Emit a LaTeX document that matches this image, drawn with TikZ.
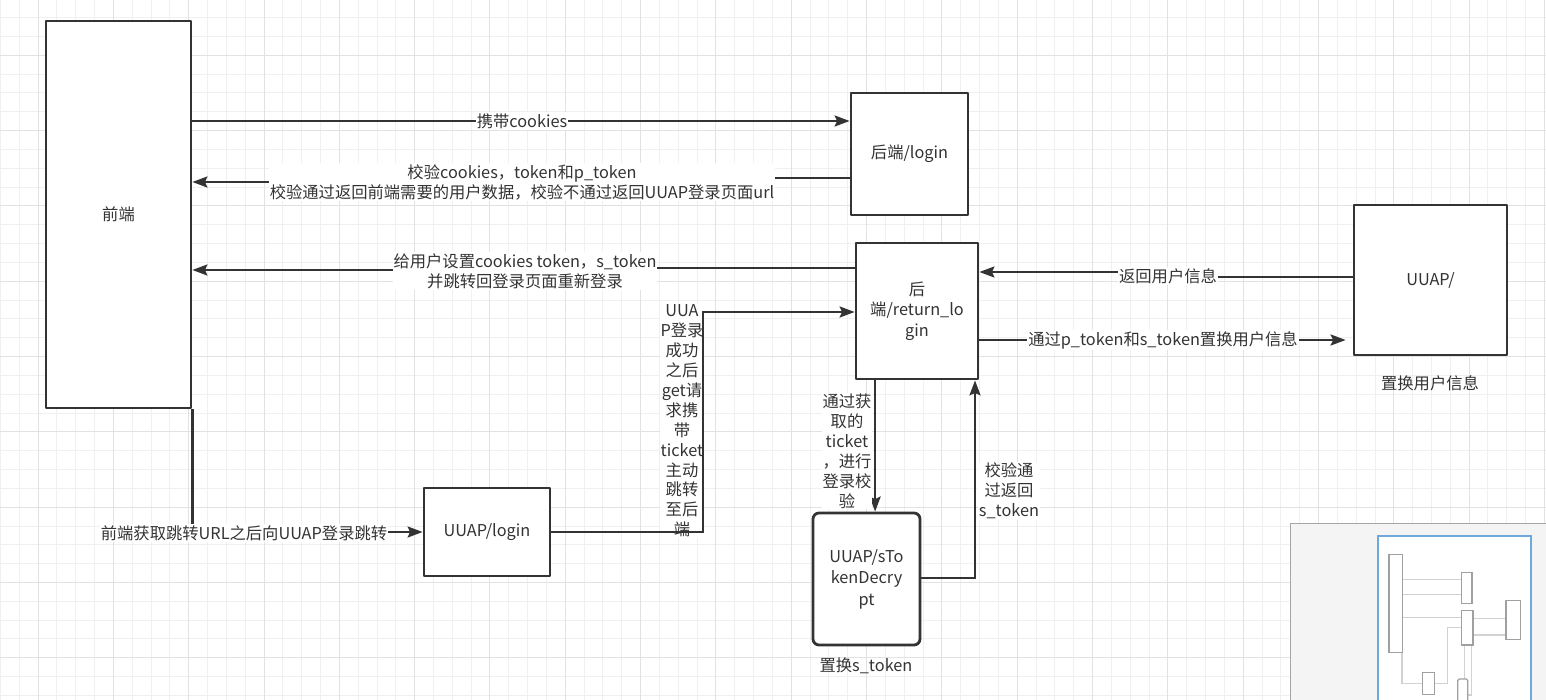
\documentclass[tikz,border=0pt]{standalone}
\usepackage{fontspec}
\setmainfont{Noto Sans CJK SC}
\usetikzlibrary{arrows.meta,calc}
\definecolor{ink}{HTML}{333333}
\definecolor{gridminor}{HTML}{F0F0F0}
\definecolor{gridmajor}{HTML}{E2E2E2}
\definecolor{panelfill}{HTML}{F4F4F4}
\definecolor{panelline}{HTML}{A6A6A6}
\definecolor{viewblue}{HTML}{6FA8DC}
\definecolor{mapbox}{HTML}{A0A0A0}
\definecolor{mapline}{HTML}{D2D2D2}
\begin{document}
\begin{tikzpicture}[x=1pt,y=-1pt,
  box/.style={draw=ink,line width=2.8pt,fill=white,text=ink,align=center,
    inner sep=0pt,line join=round,font=\fontsize{16.3}{20.5}\selectfont},
  edge/.style={draw=ink,line width=2.4pt,line join=miter,
    -{Stealth[length=15pt,width=11pt,inset=2.5pt]}},
  lbl/.style={fill=white,text=ink,align=center,inner sep=1pt,
    font=\fontsize{16.3}{20}\selectfont},
  plain/.style={text=ink,align=center,inner sep=1pt,
    font=\fontsize{16.3}{20}\selectfont},
  mapbox/.style={draw=mapbox,line width=1.3pt,fill=white},
  mapline/.style={draw=mapline,line width=1.2pt}]
\useasboundingbox (0,0) rectangle (1546,700);
\clip (0,0) rectangle (1546,700);
\fill[white] (0,0) rectangle (1546,700);

% background grid: fine lines, with a heavier line every fourth cell
\foreach \i in {0,...,82} \draw[gridminor,line width=1pt] ({0.4+18.83*\i},0) -- ++(0,700);
\foreach \j in {0,...,36} \draw[gridminor,line width=1pt] (0,{17.6+18.83*\j}) -- ++(1546,0);
\foreach \i in {0,...,20} \draw[gridmajor,line width=1pt] ({38.06+75.32*\i},0) -- ++(0,700);
\foreach \j in {0,...,8} \draw[gridmajor,line width=1pt] (0,{55.26+75.32*\j}) -- ++(1546,0);

% boxes
\node[box,minimum width=145pt,minimum height=387pt] (front) at (118.5,214.5) {前端};
\node[box,minimum width=117pt,minimum height=122pt] (login) at (909.5,154) {后端/login};
\node[box,minimum width=122pt,minimum height=136pt] (ret) at (917,311) {后\\端/return\_lo\\gin};
\node[box,minimum width=153pt,minimum height=150pt] (uuap) at (1430.5,280) {UUAP/};
\node[box,minimum width=126pt,minimum height=88pt] (ulogin) at (487,532) {UUAP/login};
\node[box,rounded corners=6pt,minimum width=107pt,minimum height=132pt,
  font=\fontsize{16.3}{21.5}\selectfont] (stok) at (866.5,579) {UUAP/sTo\\kenDecry\\pt};

% captions under boxes
\node[plain] (uuapcap) at (1430,383) {置换用户信息};
\node[plain] (stokcap) at (866,666) {置换s\_token};

% vertical label beside the ticket redirect, placed under its connector
\node[lbl,font=\fontsize{16.3}{19.9}\selectfont] (ticketlbl) at (682,421)
  {UUA\\P登录\\成功\\之后\\get请\\求携\\带\\ticket\\主动\\跳转\\至后\\端};

% connectors
\draw[edge] (front.east |- 0,121) -- (login.west |- 0,121);
\draw[edge] (login.west |- 0,178) -- (522,178) -- (522,182) -- (front.east |- 0,182);
\draw[edge] (ret.west |- 0,268) -- (525,268) -- (525,270) -- (front.east |- 0,270);
\draw[edge] (front.south east) -- (front.south east |- ulogin.west) -- (ulogin.west);
\draw[edge] (ulogin.east) -- (703,532) -- (703,312) -- (ret.west |- 0,312);
\draw[edge] (ret.south west) ++(20.5,0) coordinate (retdown) -- (retdown |- stok.north);
\draw[edge] (stok.east |- 0,578) -- (975,578) -- (ret.south -| 975,0);
\draw[edge] (uuap.west |- 0,277) -- (1168,277) -- (1168,272) -- (ret.east |- 0,272);
\coordinate (uuapin) at ($(uuap.west |- 0,340)+(-7,0)$);
\draw[edge] (ret.east |- 0,340) -- (uuapin);

% connector labels
\node[lbl] (l1) at (522,121) {携带cookies};
\node[lbl] (l2) at (522,182) {校验cookies，token和p\_token\\校验通过返回前端需要的用户数据，校验不通过返回UUAP登录页面url};
\node[lbl] (l3) at (525,271) {给用户设置cookies token，s\_token\\并跳转回登录页面重新登录};
\node[lbl] (l4) at (244,533) {前端获取跳转URL之后向UUAP登录跳转};
\node[lbl] (l5) at (1168,276) {返回用户信息};
\node[lbl] (l6) at (1163,340) {通过p\_token和s\_token置换用户信息};
\node[lbl] (l7) at (847,451) {通过获\\取的\\ticket\\，进行\\登录校\\验};
\node[lbl] (l8) at (1009,491) {校验通\\过返回\\s\_token};

% overview panel in the corner
\draw[panelline,fill=panelfill,line width=1pt] (1290.5,523) rectangle (1560,710);
\draw[viewblue,fill=white,line width=1.6pt] (1377.7,536) rectangle (1530.7,710);
\draw[mapline] (1402.7,579.3) -- (1461.3,579.3);
\draw[mapline] (1402.7,594.3) -- (1461.3,594.3);
\draw[mapline] (1402.7,617.3) -- (1461.7,617.3);
\draw[mapline] (1402,652.3) -- (1402,683.3) -- (1422.7,683.3);
\draw[mapline] (1434.3,683.3) -- (1447.7,683.3) -- (1447.7,627.7) -- (1461.7,627.7);
\draw[mapline] (1473,618.3) -- (1506,618.3);
\draw[mapline] (1473,635) -- (1506,635);
\draw[mapline] (1464.3,645) -- (1464.3,679);
\draw[mapline] (1471.7,645) -- (1471.7,695) -- (1467.7,695);
\draw[mapbox] (1389,554.3) rectangle (1402.7,652.3);
\draw[mapbox] (1461.3,572.3) rectangle (1472,603.7);
\draw[mapbox] (1461.7,610.7) rectangle (1473,645);
\draw[mapbox] (1506,600.7) rectangle (1520.3,639.3);
\draw[mapbox] (1422.7,672.3) rectangle (1434.3,694.7);
\draw[mapbox,rounded corners=1.5pt] (1457.7,679) rectangle (1467.7,712);
\end{tikzpicture}
\end{document}
